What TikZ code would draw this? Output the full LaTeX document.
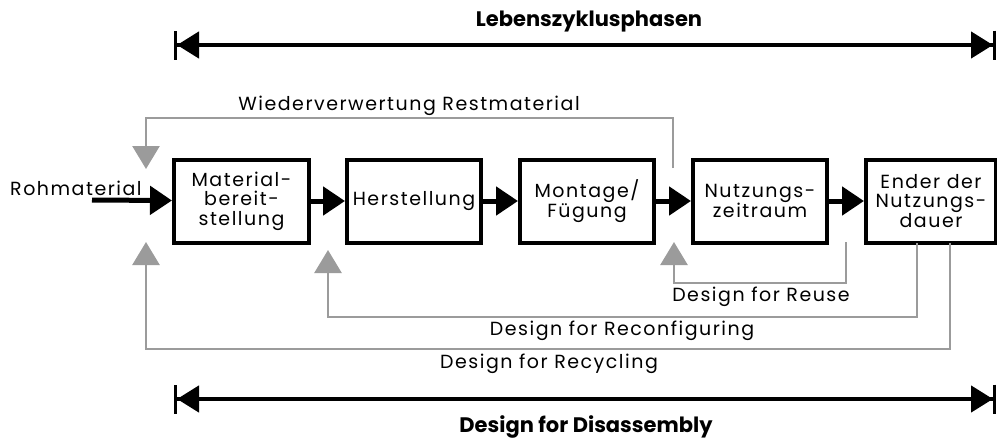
\documentclass[tikz,border=0pt]{standalone}
\usepackage{fontspec}
\setmainfont{Poppins}
\newfontfamily\gothic[LetterSpace=8]{Poppins}
\usetikzlibrary{arrows.meta}
\definecolor{fbgray}{RGB}{155,155,155}
\tikzset{
  phase/.style={draw, line width=4pt, minimum height=83pt, inner sep=1pt, align=center,
    font=\gothic\fontsize{19}{19.5}\selectfont},
  flow/.style={line width=5pt, -{Triangle[length=22pt,width=28pt]}},
  fb/.style={fbgray, line width=2.6pt, -{Triangle[length=23pt,width=27pt]}},
  fbtxt/.style={font=\gothic\fontsize{19}{20}\selectfont},
  span/.style={line width=4.5pt, {Bar[width=29pt,line width=3pt]Triangle[length=22pt,width=26pt,sep=0pt]}-{Triangle[length=22pt,width=26pt]Bar[width=29pt,line width=3pt]}},
  spantxt/.style={font=\fontsize{21}{24}\selectfont\bfseries}
}
\begin{document}
\begin{tikzpicture}[x=1pt, y=-1pt]
\useasboundingbox (0,0) rectangle (997,439);
% Phasen
\node[phase, minimum width=135pt] (b1) at (241.5,201){Material-\\bereit-\\stellung};
\node[phase, minimum width=134pt] (b2) at (414,201){Herstellung};
\node[phase, minimum width=134pt] (b3) at (587,201){Montage/\\Fügung};
\node[phase, minimum width=134pt] (b4) at (760,201){Nutzungs-\\zeitraum};
\node[phase, minimum width=130pt] (b5) at (931,201){Ender der\\Nutzungs-\\dauer};
% Materialfluss
\node[fbtxt, anchor=base west, inner sep=0pt] (roh) at (10,195){Rohmaterial};
\coordinate (in) at (92,200);
\draw[flow](in) -- (b1);
\draw[flow](b1) -- (b2);
\draw[flow](b2) -- (b3);
\draw[flow](b3) -- (b4);
\draw[flow](b4) -- (b5);
% Rueckfuehrungen
\coordinate (w0) at (673,168);
\coordinate (w1) at (146,169);
\draw[fb](w0) |- (146,118) -- (w1);
\node[fbtxt, anchor=base] (wtxt) at (409,110){Wiederverwertung Restmaterial};
\coordinate (u0) at (846,242);
\coordinate (u1) at (674,242);
\draw[fb](u0) |- (674,283) -- (u1);
\node[fbtxt] (utxt) at (761,297){Design for Reuse};
\coordinate (k0) at (917,243);
\coordinate (k1) at (328,250);
\draw[fb](k0) |- (328,317) -- (k1);
\node[fbtxt] (ktxt) at (622,331){Design for Reconfiguring};
\coordinate (c0) at (950,243);
\coordinate (c1) at (146,242);
\draw[fb](c0) |- (146,349) -- (c1);
\node[fbtxt] (ctxt) at (549,364){Design for Recycling};
% Spannen
\coordinate (l0) at (174,45);
\coordinate (l1) at (996,45);
\draw[span](l0) -- (l1);
\node[spantxt] (ltxt) at (589,22){Lebenszyklusphasen};
\coordinate (d0) at (174,399);
\coordinate (d1) at (996,399);
\draw[span](d0) -- (d1);
\node[spantxt] (dtxt) at (586,427){Design for Disassembly};
\end{tikzpicture}
\end{document}
